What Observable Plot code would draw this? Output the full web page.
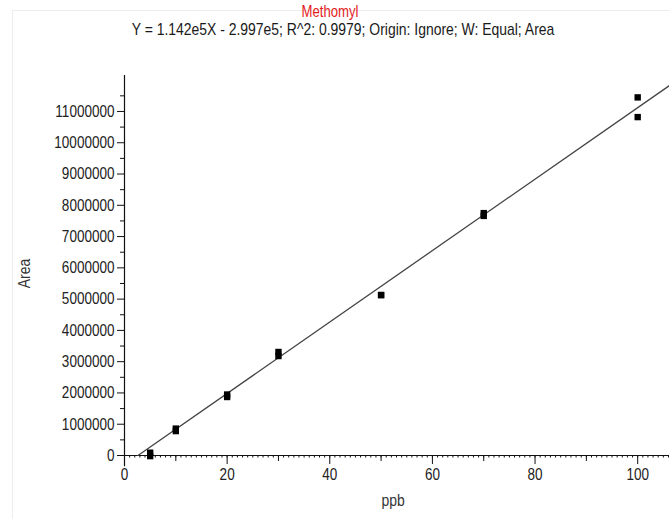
<!DOCTYPE html>
<html>
<head>
<meta charset="utf-8">
<script src="https://cdn.jsdelivr.net/npm/d3@7"></script>
<script src="https://cdn.jsdelivr.net/npm/@observablehq/plot@0.6"></script>
<style>
  html, body { margin: 0; padding: 0; background: #fff; }
  #wrap { position: relative; width: 669px; height: 519px; overflow: hidden; font-family: "Liberation Sans", Arial, sans-serif; }
  #frame { position: absolute; left: 12px; top: 10px; width: 700px; height: 600px; border-left: 1px solid #ececec; border-top: 1px solid #ececec; }
  #header { position: relative; height: 45px; }
  .hl { position: absolute; white-space: nowrap; transform-origin: center; }
  #title { left: 330px; top: 3px; font-size: 16px; color: #e31a1c; transform: translateX(-50%) scaleX(0.82); }
  #subtitle { left: 343px; top: 20px; font-size: 17px; color: #1a1a1a; transform: translateX(-50%) scaleX(0.82); }
  #chart { position: relative; }
</style>
</head>
<body>
<div id="wrap">
  <div id="frame"></div>
  <div id="header">
    <div id="title" class="hl">Methomyl</div>
    <div id="subtitle" class="hl">Y = 1.142e5X - 2.997e5; R^2: 0.9979; Origin: Ignore; W: Equal; Area</div>
  </div>
  <div id="chart"></div>
</div>
<script>
// Calibration data (ppb vs Area)
const ppb  = [5, 5, 10, 10, 20, 20, 30, 30, 50, 50, 70, 70, 100, 100];
const area = [90000, -20000, 860000, 780000, 1950000, 1870000, 3310000, 3180000, 5130000, 5130000, 7750000, 7660000, 11450000, 10820000];

// Fitted regression line
const slope = 1.142e5;
const intercept = -2.997e5;

// Axis ticks
const yMajor = [0, 1e6, 2e6, 3e6, 4e6, 5e6, 6e6, 7e6, 8e6, 9e6, 10e6, 11e6];
const yMinor = [5e5, 1.5e6, 2.5e6, 3.5e6, 4.5e6, 5.5e6, 6.5e6, 7.5e6, 8.5e6, 9.5e6, 10.5e6, 11.5e6];
const xMajor = [0, 20, 40, 60, 80, 100];
const xMid = [10, 30, 50, 70, 90];
const xMinor = d3.range(0, 107, 1);

const xDomain = [0, 106.2];
const yDomain = [0, 12.15e6];

const points = ppb.map((x, i) => ({x, y: area[i]}));
const x0 = -intercept / slope;
const fit = [x0, xDomain[1]].map(x => ({x, y: slope * x + intercept}));

const font = '"Liberation Sans", Arial, sans-serif';

const chart = Plot.plot({
  width: 669,
  height: 474,
  marginLeft: 124,
  marginRight: 0,
  marginTop: 30,
  marginBottom: 64,
  style: { fontFamily: font, fontSize: "16.5px", color: "#222", overflow: "visible" },
  x: { domain: xDomain },
  y: { domain: yDomain },
  marks: [
    Plot.axisY(yMinor, { tickSize: 4, text: null, label: null, stroke: "#111" }),
    Plot.axisY(yMajor, { tickSize: 7, tickPadding: 3, tickFormat: d3.format("d"), label: null, stroke: "#111", fill: "#222" }),
    Plot.axisX(xMinor, { tickSize: 2.5, text: null, label: null, stroke: "#111" }),
    Plot.axisX(xMid, { tickSize: 6, text: null, label: null, stroke: "#111" }),
    Plot.axisX(xMajor, { tickSize: 9, tickPadding: 4, label: null, stroke: "#111", fill: "#222" }),
    Plot.ruleY([0], { x1: xDomain[0], x2: xDomain[1], stroke: "#111", strokeWidth: 1.2 }),
    Plot.ruleX([0], { y1: -0.36e6, y2: yDomain[1], stroke: "#111", strokeWidth: 1.2 }),
    Plot.line(fit, { x: "x", y: "y", stroke: "#444", strokeWidth: 1.3 }),
    Plot.dot(points, { x: "x", y: "y", symbol: "square", r: 3.6, fill: "#000", stroke: "none" }),
    Plot.text(["Area"], { frameAnchor: "left", textAnchor: "middle", dx: -100, dy: 8, rotate: -90, fontSize: 17, fill: "#333" }),
    Plot.text(["ppb"], { frameAnchor: "bottom", dy: 50, dx: -4, fontSize: 17, fill: "#333" })
  ]
});
// condensed (narrow) look for all texts
chart.querySelectorAll("text").forEach(t => {
  const tr = t.getAttribute("transform") || "";
  t.setAttribute("transform", tr + " scale(0.82,1)");
});
document.getElementById("chart").appendChild(chart);
</script>
</body>
</html>
